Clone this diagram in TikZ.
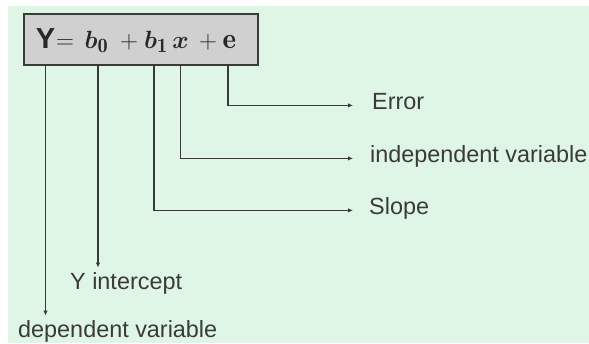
\documentclass[tikz,border=0pt]{standalone}
\usepackage{amsmath}
\usepackage{fontspec}
\setsansfont{Liberation Sans}
\usetikzlibrary{arrows.meta}
\definecolor{bggreen}{RGB}{223,245,229}
\definecolor{boxgray}{RGB}{208,208,208}
\definecolor{ink}{RGB}{58,58,58}
\definecolor{eqink}{RGB}{40,40,40}
\tikzset{
  eqsym/.style={inner sep=0pt, anchor=base, text=eqink,
    font=\fontsize{29}{33}\selectfont},
  lbl/.style={inner sep=0pt, anchor=base west, text height=0.72em, text depth=0pt,
    text=ink, font=\sffamily\fontsize{23.4}{27}\selectfont},
  conn/.style={draw=ink, line width=1.6pt, -{Latex[length=5pt,width=4.5pt]}},
}
\begin{document}
\begin{tikzpicture}[x=1pt,y=-1pt]
  % canvas and tinted background
  \fill[white] (0,0) rectangle (589,343);
  \useasboundingbox (0,0) rectangle (589,343);
  \fill[bggreen] (8,6) rectangle (589,343);

  % equation box
  \node[draw=ink, fill=boxgray, line width=2pt, inner sep=0pt,
        minimum width=234pt, minimum height=51pt, anchor=north west] (box) at (23,13) {};

  % equation symbols
  \node[eqsym] (sY)  at (45.5,48) {\sffamily\bfseries Y};
  \node[eqsym] (sEq) at (65,48)   {$=$};
  \node[eqsym] (sB0) at (96.5,48) {$\boldsymbol{b}_{\mathbf{0}}$};
  \node[eqsym] (sP1) at (129,48)  {$+$};
  \node[eqsym] (sB1) at (156,48)  {$\boldsymbol{b}_{\mathbf{1}}$};
  \node[eqsym] (sX)  at (180.5,48){$\boldsymbol{x}$};
  \node[eqsym] (sP2) at (208,48)  {$+$};
  \node[eqsym] (sE)  at (229.5,48){$\mathbf{e}$};

  % labels
  \node[lbl] (err)   at (372,109) {Error};
  \node[lbl] (ind)   at (370,162) {independent variable};
  \node[lbl] (slope) at (369,214) {Slope};
  \node[lbl] (yint)  at (70,289)  {Y intercept};
  \node[lbl] (dep)   at (18,337)  {dependent variable};

  % connector start points on the bottom edge of the box
  \coordinate (pY)  at (sY.south |- box.south);
  \coordinate (pB0) at ([xshift=1.5pt]sB0.south |- box.south);
  \coordinate (pB1) at ([xshift=-2pt]sB1.south |- box.south);
  \coordinate (pX)  at (sX.south |- box.south);
  \coordinate (pE)  at ([xshift=-1.5pt]sE.south |- box.south);

  % connectors
  \draw[conn, shorten >=19pt] (pE)  |- (err.west);
  \draw[conn, shorten >=17pt] (pX)  |- (ind.west);
  \draw[conn, shorten >=16pt] (pB1) |- (slope.west);
  \draw[conn, shorten >=14pt] (pB0) -- (pB0 |- yint.north);
  \draw[conn, shorten >=14pt] (pY)  -- (pY |- dep.north);
\end{tikzpicture}
\end{document}
